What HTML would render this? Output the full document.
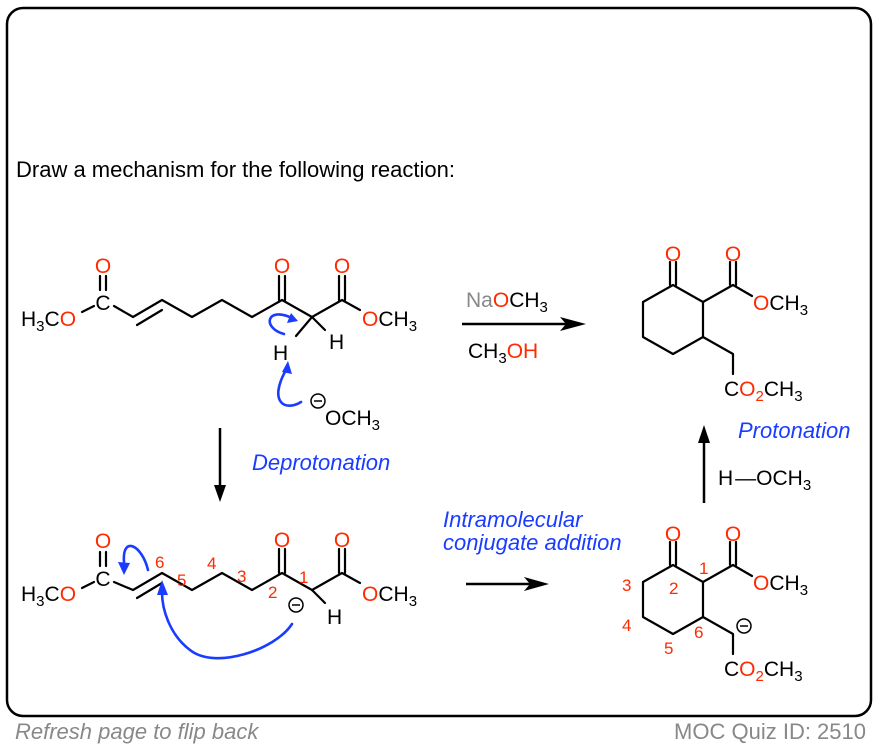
<!DOCTYPE html>
<html><head><meta charset="utf-8"><style>
html,body{margin:0;padding:0;background:#fff;}
svg{display:block;font-family:"Liberation Sans",Arial,sans-serif;}
.b{stroke:#000;stroke-width:2.2;fill:none;stroke-linecap:round;stroke-linejoin:round}
.bl{stroke:#1a3cff;stroke-width:2.6;fill:none;stroke-linecap:round}
.t{font-size:21px;fill:#000}
.c{text-anchor:middle}
.r{fill:#ff2a00}
.n{font-size:17px;fill:#ff2a00}
.lab{font-size:22px;fill:#1a3cff;font-style:italic}
</style></head><body>
<svg width="880" height="748" viewBox="0 0 880 748">
<rect x="7" y="8" width="864" height="708" rx="16" fill="none" stroke="#000" stroke-width="2.5"/>
<text x="16" y="177" font-size="22" fill="#000">Draw a mechanism for the following reaction:</text>

<!-- top molecule -->
<g class="b">
<line x1="100" y1="276" x2="100" y2="290"/><line x1="106" y1="276" x2="106" y2="290"/>
<line x1="82" y1="312" x2="94" y2="306"/>
<polyline points="114,306 133,317 162,300 192,317 222,300 252,317 282,300 312,317 342,300 360,310"/>
<line x1="137" y1="325" x2="162" y2="310"/>
<line x1="279" y1="276" x2="279" y2="300"/><line x1="285" y1="276" x2="285" y2="300"/>
<line x1="339" y1="276" x2="339" y2="300"/><line x1="345" y1="276" x2="345" y2="300"/>
<line x1="312" y1="317" x2="325" y2="330"/>
<line x1="312" y1="317" x2="296" y2="336"/>
</g>
<text class="t c" x="103" y="310">C</text>
<text class="t r c" x="103" y="273">O</text>
<text class="t" x="21" y="326">H<tspan font-size="15" dy="5">3</tspan><tspan dy="-5">C</tspan><tspan class="r">O</tspan></text>
<text class="t r c" x="282" y="273">O</text>
<text class="t r c" x="342" y="273">O</text>
<text class="t" x="362" y="326"><tspan class="r">O</tspan>CH<tspan font-size="15" dy="5">3</tspan></text>
<text class="t" x="329" y="349">H</text>
<text class="t" x="273" y="360">H</text>
<path class="bl" d="M284,334 C262,328 266,306 292,318"/>
<path d="M298,321 L287,323 L291,313 Z" fill="#1a3cff"/>
<path class="bl" d="M301,402 C285,412 268,402 286,370"/>
<path d="M288,361 L292,374 L282,372 Z" fill="#1a3cff"/>
<circle cx="318" cy="401" r="7" fill="none" stroke="#000" stroke-width="1.5"/><line x1="314" y1="401" x2="322" y2="401" stroke="#000" stroke-width="1.5"/>
<text class="t" x="325" y="425">OCH<tspan font-size="15" dy="5">3</tspan></text>
<text class="lab" x="252" y="470">Deprotonation</text>
<line x1="220" y1="428" x2="220" y2="490" stroke="#000" stroke-width="2.5"/>
<path d="M220,502 L214,485 L226,485 Z"/>

<!-- reagents arrow -->
<line x1="462" y1="324" x2="570" y2="324" stroke="#000" stroke-width="2.5"/>
<path d="M586,324 L560,317 L566,324 L560,331 Z"/>
<text class="t" x="466" y="307"><tspan fill="#888">Na</tspan><tspan class="r">O</tspan>CH<tspan font-size="15" dy="5">3</tspan></text>
<text class="t" x="468" y="358">CH<tspan font-size="15" dy="5">3</tspan><tspan dy="-5" class="r">OH</tspan></text>

<!-- bottom molecule -->
<g class="b">
<line x1="100" y1="552" x2="100" y2="566"/><line x1="106" y1="552" x2="106" y2="566"/>
<line x1="82" y1="588" x2="94" y2="582"/>
<polyline points="114,582 133,590 162,573 192,590 222,573 252,590 282,573 312,590 342,573 360,583"/>
<line x1="137" y1="598" x2="162" y2="583"/>
<line x1="279" y1="549" x2="279" y2="573"/><line x1="285" y1="549" x2="285" y2="573"/>
<line x1="339" y1="549" x2="339" y2="573"/><line x1="345" y1="549" x2="345" y2="573"/>
<line x1="312" y1="590" x2="325" y2="603"/>
</g>
<text class="t c" x="103" y="586">C</text>
<text class="t r c" x="103" y="548">O</text>
<text class="t" x="21" y="601">H<tspan font-size="15" dy="5">3</tspan><tspan dy="-5">C</tspan><tspan class="r">O</tspan></text>
<text class="t r c" x="282" y="547">O</text>
<text class="t r c" x="342" y="547">O</text>
<text class="t" x="362" y="601"><tspan class="r">O</tspan>CH<tspan font-size="15" dy="5">3</tspan></text>
<text class="t" x="327" y="624">H</text>
<circle cx="296" cy="605" r="7" fill="none" stroke="#000" stroke-width="1.5"/><line x1="292" y1="605" x2="300" y2="605" stroke="#000" stroke-width="1.5"/>
<text class="n" x="155" y="568">6</text><text class="n" x="177" y="586">5</text>
<text class="n" x="207" y="569">4</text><text class="n" x="237" y="582">3</text>
<text class="n" x="268" y="598">2</text><text class="n" x="299" y="583">1</text>
<path class="bl" d="M148,570 C142,545 122,535 124,562"/>
<path d="M124,575 L118,562 L130,563 Z" fill="#1a3cff"/>
<path class="bl" d="M292,624 C275,650 215,670 190,650 C170,635 162,610 162,592"/>
<path d="M162,580 L157,595 L168,595 Z" fill="#1a3cff"/>

<text class="lab" x="443" y="527">Intramolecular</text>
<text class="lab" x="443" y="550">conjugate addition</text>
<line x1="466" y1="584" x2="535" y2="584" stroke="#000" stroke-width="2.5"/>
<path d="M549,584 L524,577 L530,584 L524,591 Z"/>

<!-- top product -->
<g class="b">
<polygon points="673,285 703,302 703,337 673,354 643,337 643,302"/>
<line x1="670" y1="262" x2="670" y2="285"/><line x1="676" y1="262" x2="676" y2="285"/>
<line x1="703" y1="302" x2="733" y2="285"/>
<line x1="730" y1="262" x2="730" y2="285"/><line x1="736" y1="262" x2="736" y2="285"/>
<line x1="733" y1="285" x2="752" y2="296"/>
<polyline points="703,337 733,354 733,374"/>
</g>
<text class="t r c" x="673" y="261">O</text>
<text class="t r c" x="733" y="261">O</text>
<text class="t" x="753" y="310"><tspan class="r">O</tspan>CH<tspan font-size="15" dy="5">3</tspan></text>
<text class="t" x="724" y="396">C<tspan class="r">O<tspan font-size="15" dy="5">2</tspan></tspan><tspan dy="-5">CH</tspan><tspan font-size="15" dy="5">3</tspan></text>
<text class="lab" x="738" y="438">Protonation</text>
<line x1="704" y1="503" x2="704" y2="440" stroke="#000" stroke-width="2.5"/>
<path d="M704,425 L698,443 L710,443 Z"/>
<text class="t" x="718" y="485">H<tspan dx="2">&#8212;</tspan>OCH<tspan font-size="15" dy="5">3</tspan></text>

<!-- bottom product -->
<g class="b">
<polygon points="673,565 703,582 703,617 673,634 643,617 643,582"/>
<line x1="670" y1="542" x2="670" y2="565"/><line x1="676" y1="542" x2="676" y2="565"/>
<line x1="703" y1="582" x2="733" y2="565"/>
<line x1="730" y1="542" x2="730" y2="565"/><line x1="736" y1="542" x2="736" y2="565"/>
<line x1="733" y1="565" x2="752" y2="576"/>
<polyline points="703,617 733,634 733,654"/>
</g>
<text class="t r c" x="673" y="541">O</text>
<text class="t r c" x="733" y="541">O</text>
<text class="t" x="753" y="590"><tspan class="r">O</tspan>CH<tspan font-size="15" dy="5">3</tspan></text>
<text class="t" x="724" y="676">C<tspan class="r">O<tspan font-size="15" dy="5">2</tspan></tspan><tspan dy="-5">CH</tspan><tspan font-size="15" dy="5">3</tspan></text>
<circle cx="744" cy="626" r="7" fill="none" stroke="#000" stroke-width="1.5"/><line x1="740" y1="626" x2="748" y2="626" stroke="#000" stroke-width="1.5"/>
<text class="n" x="622" y="591">3</text><text class="n" x="669" y="594">2</text>
<text class="n" x="699" y="574">1</text><text class="n" x="622" y="631">4</text>
<text class="n" x="664" y="654">5</text><text class="n" x="694" y="638">6</text>

<text x="15" y="739" font-size="22" font-style="italic" fill="#888">Refresh page to flip back</text>
<text x="866" y="739" font-size="22" fill="#888" text-anchor="end">MOC Quiz ID: 2510</text>
</svg>
</body></html>
